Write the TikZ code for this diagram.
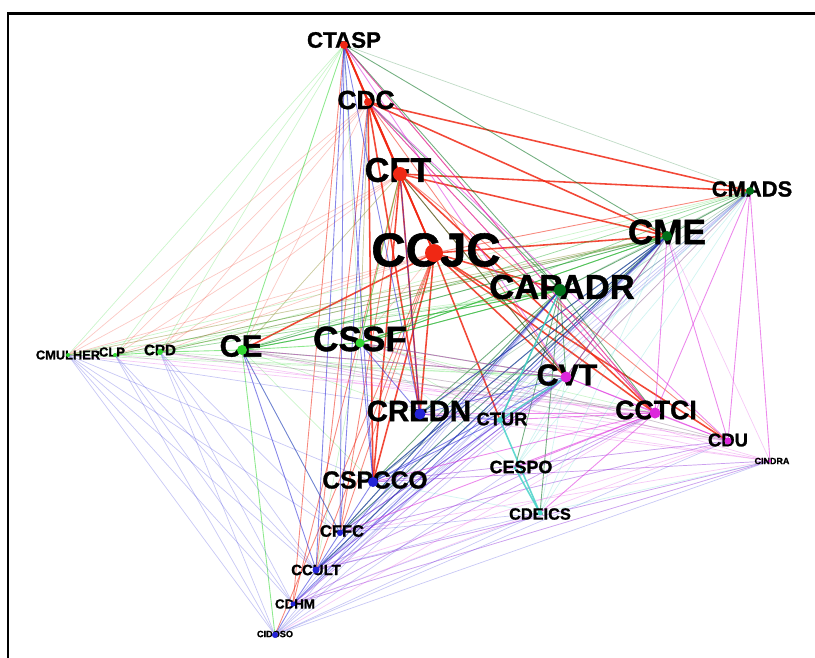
\documentclass[tikz,border=0pt]{standalone}
\usepackage{fontspec}
\setmainfont{Liberation Sans}[BoldFeatures={FakeBold=1.2}]
\usepackage{xcolor}
\usepackage{tikz}
\usetikzlibrary{positioning,calc}

\definecolor{gred}{RGB}{240,40,20}
\definecolor{dgreen}{RGB}{0,110,25}
\definecolor{lgreen}{RGB}{50,215,50}
\definecolor{gblue}{RGB}{35,35,215}
\definecolor{gmag}{RGB}{220,40,220}
\definecolor{gcyan}{RGB}{70,210,200}

\pgfdeclarelayer{edges}
\pgfsetlayers{edges,main}

\tikzset{
  lbl/.style={font=\fontsize{#1}{#1}\selectfont\bfseries, inner sep=0pt},
  dot/.style={circle, fill=#1, inner sep=0pt, minimum size=0.16cm},
  strong/.style={draw=#1, line width=0.9pt, draw opacity=0.85},
  mid/.style={draw=#1, line width=0.5pt, draw opacity=0.55},
  faint/.style={draw=#1, line width=0.4pt, draw opacity=0.25}
}

\begin{document}
\begin{tikzpicture}[x=0.02cm, y=-0.02cm]
    \useasboundingbox (0,0) rectangle (815,657);
    \draw[line width=1.7pt] (8,660) -- (8,13) -- (820,13);

    % labels
    \node[lbl=12.7pt] (t-ctasp) at (344,40) {CTASP};
    \node[lbl=15pt] (t-cdc) at (366,100) {CDC};
    \node[lbl=19.5pt] (t-cft) at (398,170) {CFT};
    \node[lbl=27pt] (t-ccjc) at (436,250) {CCJC};
    \node[lbl=20pt] (t-cme) at (667,232) {CME};
    \node[lbl=12.5pt] (t-cmads) at (752,189) {CMADS};
    \node[lbl=19.7pt] (t-capadr) at (562,287) {CAPADR};
    \node[lbl=20pt] (t-cssf) at (360,339) {CSSF};
    \node[lbl=17.5pt] (t-ce) at (241,346) {CE};
    \node[lbl=8.6pt] (t-cpd) at (160,350) {CPD};
    \node[lbl=7.4pt] (t-clp) at (112,352) {CLP};
    \node[lbl=7.3pt] (t-cmulher) at (68,355) {CMULHER};
    \node[lbl=17.3pt] (t-cvt) at (567,375) {CVT};
    \node[lbl=16.7pt] (t-credn) at (419,411) {CREDN};
    \node[lbl=10.4pt] (t-ctur) at (502,419) {CTUR};
    \node[lbl=15.2pt] (t-cctci) at (656,410) {CCTCI};
    \node[lbl=10.5pt] (t-cdu) at (728,440) {CDU};
    \node[lbl=5.1pt] (t-cindra) at (772,461) {CINDRA};
    \node[lbl=10.2pt] (t-cespo) at (521,467) {CESPO};
    \node[lbl=9.3pt] (t-cdeics) at (540,514) {CDEICS};
    \node[lbl=14pt] (t-cspcco) at (375,480) {CSPCCO};
    \node[lbl=9.4pt] (t-cffc) at (342,531) {CFFC};
    \node[lbl=8.5pt] (t-ccult) at (316,570) {CCULT};
    \node[lbl=7.6pt] (t-cdhm) at (295,604) {CDHM};
    \node[lbl=5.2pt] (t-cidoso) at (275,634) {CIDOSO};

    % dots
    \node[dot=gred] (ctasp) at (344,45) {};
    \node[dot=gred] (cdc) at (368,102) {};
    \node[dot=gred, minimum size=0.28cm] (cft) at (400,174) {};
    \node[dot=gred, minimum size=0.36cm] (ccjc) at (434,253) {};
    \node[dot=dgreen, minimum size=0.2cm] (cme) at (667,236) {};
    \node[dot=dgreen] (cmads) at (750,191) {};
    \node[dot=dgreen, minimum size=0.24cm] (capadr) at (560,290) {};
    \node[dot=lgreen, minimum size=0.18cm] (cssf) at (360,343) {};
    \node[dot=lgreen, minimum size=0.2cm] (ce) at (242,350) {};
    \node[dot=lgreen, minimum size=0.12cm] (cpd) at (160,352) {};
    \node[dot=lgreen, minimum size=0.08cm] (clp) at (115,355) {};
    \node[dot=lgreen, minimum size=0.08cm] (cmulher) at (68,355) {};
    \node[dot=gmag, minimum size=0.22cm] (cvt) at (566,377) {};
    \node[dot=gblue, minimum size=0.22cm] (credn) at (420,414) {};
    \node[dot=gcyan, minimum size=0.12cm] (ctur) at (500,420) {};
    \node[dot=gmag, minimum size=0.22cm] (cctci) at (655,413) {};
    \node[dot=gmag, minimum size=0.14cm] (cdu) at (728,441) {};
    \node[dot=gmag, minimum size=0.06cm] (cindra) at (770,461) {};
    \node[dot=gcyan, minimum size=0.06cm] (cespo) at (515,468) {};
    \node[dot=gcyan, minimum size=0.1cm] (cdeics) at (540,513) {};
    \node[dot=gblue, minimum size=0.2cm] (cspcco) at (373,482) {};
    \node[dot=gblue, minimum size=0.12cm] (cffc) at (340,533) {};
    \node[dot=gblue, minimum size=0.14cm] (ccult) at (316,570) {};
    \node[dot=gblue, minimum size=0.1cm] (cdhm) at (293,604) {};
    \node[dot=gblue, minimum size=0.12cm] (cidoso) at (275,635) {};

    \begin{pgfonlayer}{edges}
    % red
    \foreach \a/\b in {cdc/cft, cdc/ccjc, cft/ccjc, ctasp/cdc, ctasp/cft, ctasp/ccjc, cft/credn, ccjc/credn,
        ccjc/cspcco, cft/cspcco, cdc/credn, cdc/cspcco, ccjc/cme, ccjc/cvt, ccjc/cctci, cft/cme, cft/cmads,
        cdc/cme, cdc/cmads, ccjc/ctur, cft/cctci, ccjc/ce, ccjc/capadr, ccjc/cdu}
        \draw[strong=gred] (\a.center) -- (\b.center);
    \foreach \a/\b in {ctasp/cctci, cdc/cctci, cdc/cvt, cft/cvt, ccjc/cmads, cft/cffc, ccjc/cffc,
        ccjc/ccult, cdc/ccult, ctasp/cdhm, cft/cdhm, ccjc/cidoso, cft/cdu}
        \draw[mid=gred] (\a.center) -- (\b.center);
    \foreach \a/\b in {cmulher/cdc, cmulher/cft, cmulher/ccjc, clp/cdc, clp/cft, clp/ccjc, cpd/cft, cpd/ccjc,
        cpd/cdc, ce/cft, ce/cdc, cssf/ccjc, cssf/cft, cssf/cdc, clp/cme, cpd/cme, cmulher/cme}
        \draw[faint=gred] (\a.center) -- (\b.center);
    % dark green
    \foreach \a/\b in {ctasp/cme, cme/capadr, cme/cmads, capadr/ce, capadr/cssf, cme/ce, cme/cssf, cme/cvt,
        capadr/cvt, capadr/credn, cme/credn, capadr/cspcco, cme/cspcco, cdc/capadr, ctasp/capadr,
        capadr/cctci, capadr/ctur, capadr/cdeics, cme/cffc, capadr/cffc, cme/ccult, capadr/cespo, cft/cvt}
        \draw[mid=dgreen] (\a.center) -- (\b.center);
    \foreach \a/\b in {cmads/ce, cmads/cssf, cmads/capadr, cmads/cvt, cmads/cspcco, cmads/credn, cmads/ctasp,
        cme/cpd, cme/clp, capadr/cpd}
        \draw[faint=dgreen] (\a.center) -- (\b.center);
    % light green
    \foreach \a/\b in {ctasp/ce, cft/cssf, ce/cssf, ce/cpd, cpd/clp, ce/cvt, cssf/cvt, cssf/cme, ce/capadr,
        cssf/capadr, ce/cidoso}
        \draw[mid=lgreen] (\a.center) -- (\b.center);
    \foreach \a/\b in {ctasp/cssf, ctasp/cmulher, ctasp/clp, ctasp/cpd, cft/ce, cdc/cssf, clp/cmulher,
        cssf/cctci, ce/cctci, ce/cme, cpd/capadr, cpd/cme, clp/cme, cmulher/cme, cmulher/capadr, cssf/cmads,
        ce/cmads, cpd/cmads, ce/cspcco, cssf/ccult, cssf/cdu, ce/cdu, cpd/cvt, clp/cvt, cmulher/cvt,
        cssf/ctur, ce/credn, clp/capadr, cmulher/cmads, cpd/cctci, ce/cffc}
        \draw[faint=lgreen] (\a.center) -- (\b.center);
    % blue
    \foreach \a/\b in {cssf/credn, cssf/cspcco, ce/cffc, ce/ccult, ctasp/cspcco, ctasp/credn, ctasp/cffc,
        cdc/cffc, cspcco/cvt, credn/cvt, cffc/cvt, ccult/cvt, ccult/cme, cdhm/cme, cspcco/cme, credn/cme,
        cffc/capadr, ccult/capadr, cspcco/cffc, cffc/ccult, ccult/cdhm, cdhm/cidoso, cspcco/ctur,
        credn/ctur, cft/credn, ctasp/ccult}
        \draw[mid=gblue] (\a.center) -- (\b.center);
    \foreach \a/\b in {cmulher/ccult, cmulher/cdhm, cmulher/cidoso, cmulher/cffc, cmulher/cspcco,
        clp/cidoso, clp/cdhm, clp/ccult, cpd/cdhm, cpd/ccult, cpd/cidoso, cpd/cffc, ccult/cctci,
        cdhm/cctci, cidoso/cdu, cdhm/cindra, ccult/cindra, cffc/cdu, cidoso/cindra, cidoso/cdeics,
        cdhm/cdeics, ccult/cdeics, cffc/cdeics, cidoso/cespo, cdhm/cvt, cidoso/cvt, cidoso/cme,
        cdhm/capadr, cdhm/cmads, ccult/cmads, cffc/cmads, cspcco/cmads, cspcco/cdu, cspcco/cindra,
        cmulher/ctur, ccult/ctur, cdhm/ctur, cffc/cme, cidoso/capadr}
        \draw[faint=gblue] (\a.center) -- (\b.center);
    % magenta
    \foreach \a/\b in {ctasp/cvt, ctasp/cctci, cmads/cctci, cmads/cdu, cmads/cindra, cme/cctci, cme/cdu,
        cme/cvt, cvt/cctci, cvt/cdu, cctci/cdu, ce/cvt, cssf/cvt, cvt/ctur, cctci/credn, cctci/ctur,
        cctci/cespo, cctci/cspcco, cctci/cffc, cctci/cdeics, cdc/cctci, cdc/cdu}
        \draw[mid=gmag] (\a.center) -- (\b.center);
    \foreach \a/\b in {cctci/ccult, cctci/cdhm, cctci/cidoso, cdu/ccult, cdu/cdhm, cdu/cspcco, cdu/cffc,
        cindra/cffc, cindra/ccult, cindra/cdhm, cindra/cspcco, cindra/ctur, cvt/cffc, cvt/ccult, cvt/cdhm,
        cdu/cssf, cdu/ce, cindra/ce, cindra/cssf, cdu/cpd, cctci/cpd, cctci/clp, cctci/cmulher, cmads/cvt,
        cdu/credn, cindra/credn, cctci/ce, cindra/cme}
        \draw[faint=gmag] (\a.center) -- (\b.center);
    % cyan
    \foreach \a/\b in {ctur/cdeics, ctur/cvt, ctur/capadr, cespo/cdeics}
        \draw[strong=gcyan] (\a.center) -- (\b.center);
    \foreach \a/\b in {cdeics/cvt, cdeics/cme, cdeics/cmads, cespo/cme, cespo/cmads, cdeics/cindra,
        cespo/cvt, ctur/cmads, ctur/cme, cdeics/cspcco, cespo/cssf}
        \draw[faint=gcyan] (\a.center) -- (\b.center);
    \end{pgfonlayer}
\end{tikzpicture}
\end{document}
